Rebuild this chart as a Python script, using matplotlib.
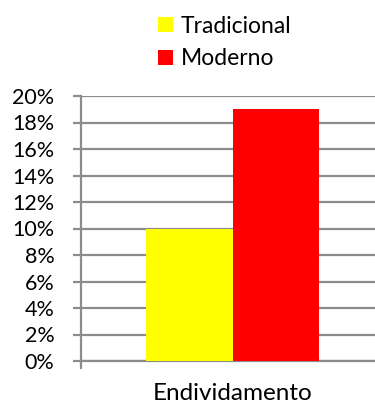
import matplotlib
matplotlib.use("Agg")
import matplotlib.pyplot as plt
from matplotlib.patches import Patch
from matplotlib.ticker import PercentFormatter

categories = ["Endividamento"]
series_names = ["Tradicional", "Moderno"]
series_values = [[10], [19]]
series_colors = ["#FFFF00", "#FF0000"]
y_ticks = [0, 2, 4, 6, 8, 10, 12, 14, 16, 18, 20]

plt.rcParams["font.family"] = ["Lato", "DejaVu Sans"]
FS = 15.5

W, H = 375, 405
fig = plt.figure(figsize=(W / 100, H / 100), dpi=100)
left, right, bottom, top = 81, 384, 361, 96
ax = fig.add_axes([left / W, 1 - bottom / H, (right - left) / W, (bottom - top) / H])

grid_c = "#8C8C8C"
bar_w = 0.285
x0 = 0
for i, (name, vals, col) in enumerate(zip(series_names, series_values, series_colors)):
    ax.bar(x0 + (i - 0.5) * bar_w, vals, width=bar_w, color=col, zorder=3, label=name)

ax.set_xlim(-0.5, 0.5)
ax.set_ylim(0, 20)
ax.set_yticks(y_ticks)
ax.yaxis.set_major_formatter(PercentFormatter(decimals=0))
ax.set_xticks([0])
ax.set_xticklabels(categories)
ax.yaxis.grid(True, color=grid_c, linewidth=1.6, zorder=0)
ax.set_axisbelow(True)

for s in ["top", "right"]:
    ax.spines[s].set_visible(False)
for s in ["left", "bottom"]:
    ax.spines[s].set_color(grid_c)
    ax.spines[s].set_linewidth(1.6)

ax.tick_params(axis="y", length=6, width=1.6, color=grid_c, pad=13, labelsize=FS, labelcolor="#000000")
ax.tick_params(axis="x", length=0, pad=16, labelsize=17.5)
# small tick at the corner of the axes, pointing down
ax.set_xticks([-0.5], minor=True)
ax.tick_params(axis="x", which="minor", length=6, width=1.6, color=grid_c, direction="out")

handles = [Patch(facecolor=c, edgecolor="none") for c in series_colors]
fig.legend(handles, series_names, loc="upper left", bbox_to_anchor=(144 / W, 1 - 2 / H),
           frameon=False, fontsize=16.5, handlelength=0.65, handleheight=0.65,
           handletextpad=0.35, labelspacing=0.5, borderpad=0.1)

fig.savefig("out.png", dpi=100)
